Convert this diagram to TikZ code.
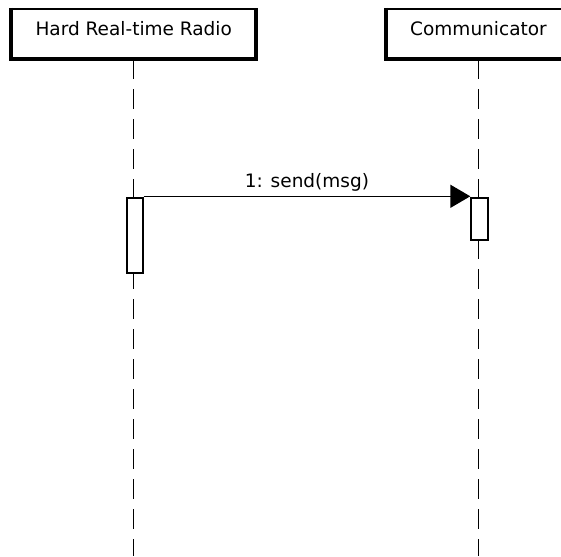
\documentclass[tikz,border=0pt]{standalone}
\usepackage{fontspec}
\setmainfont{DejaVu Sans}
\usetikzlibrary{arrows.meta}

\tikzset{
  actorbox/.style={draw=black, line width=2.4pt, fill=white, inner sep=0pt, minimum height=49pt},
  actortext/.style={anchor=base, inner sep=0pt, font=\fontsize{18.5}{22}\selectfont},
  heavyedge/.style={line width=3.4pt, line cap=butt, line join=miter},
  lifeline/.style={draw=black, line width=1.5pt, dash pattern=on 20pt off 10pt},
  activation/.style={draw=black, line width=1.4pt, fill=white, inner sep=0pt},
  callarrow/.style={draw=black, line width=1.4pt, -{Triangle[length=20pt, width=23pt]}},
  msgtext/.style={anchor=base, inner sep=0pt, font=\fontsize{18.5}{22}\selectfont},
}

\begin{document}
\begin{tikzpicture}[x=1pt, y=-1pt]
  \useasboundingbox (0,0) rectangle (561,556);

  % participant heads
  \node[actorbox, minimum width=243.3pt] (radio) at (133.7,33.5) {};
  \node[actorbox, minimum width=183pt] (comm) at (478.5,33.5) {};
  \draw[heavyedge] (radio.north west) -- (radio.south west) -- (radio.south east) -- (radio.north east);
  \draw[heavyedge] (comm.north west) -- (comm.south west) -- (comm.south east) -- (comm.north east);
  \node[actortext] (radiotext) at (133.7,36) {Hard Real-time Radio};
  \node[actortext] (commtext) at (478.5,36) {Communicator};

  % lifelines down to the bottom edge
  \coordinate (radioend) at (133.7,556);
  \coordinate (commend) at (478.5,556);
  \draw[lifeline] (radio.south) -- (radioend);
  \draw[lifeline] (comm.south) -- (commend);

  % activation bars
  \node[activation, minimum width=16pt, minimum height=75pt] (radioact) at (135,235.5) {};
  \node[activation, minimum width=17pt, minimum height=42pt] (commact) at (479.5,219) {};

  % synchronous call
  \draw[callarrow] ([yshift=1pt]radioact.north east) -- ([yshift=1pt]commact.north west)
    node[msgtext, pos=0.5, yshift=8.5pt] (sendlabel) {1: send(msg)};
\end{tikzpicture}
\end{document}
